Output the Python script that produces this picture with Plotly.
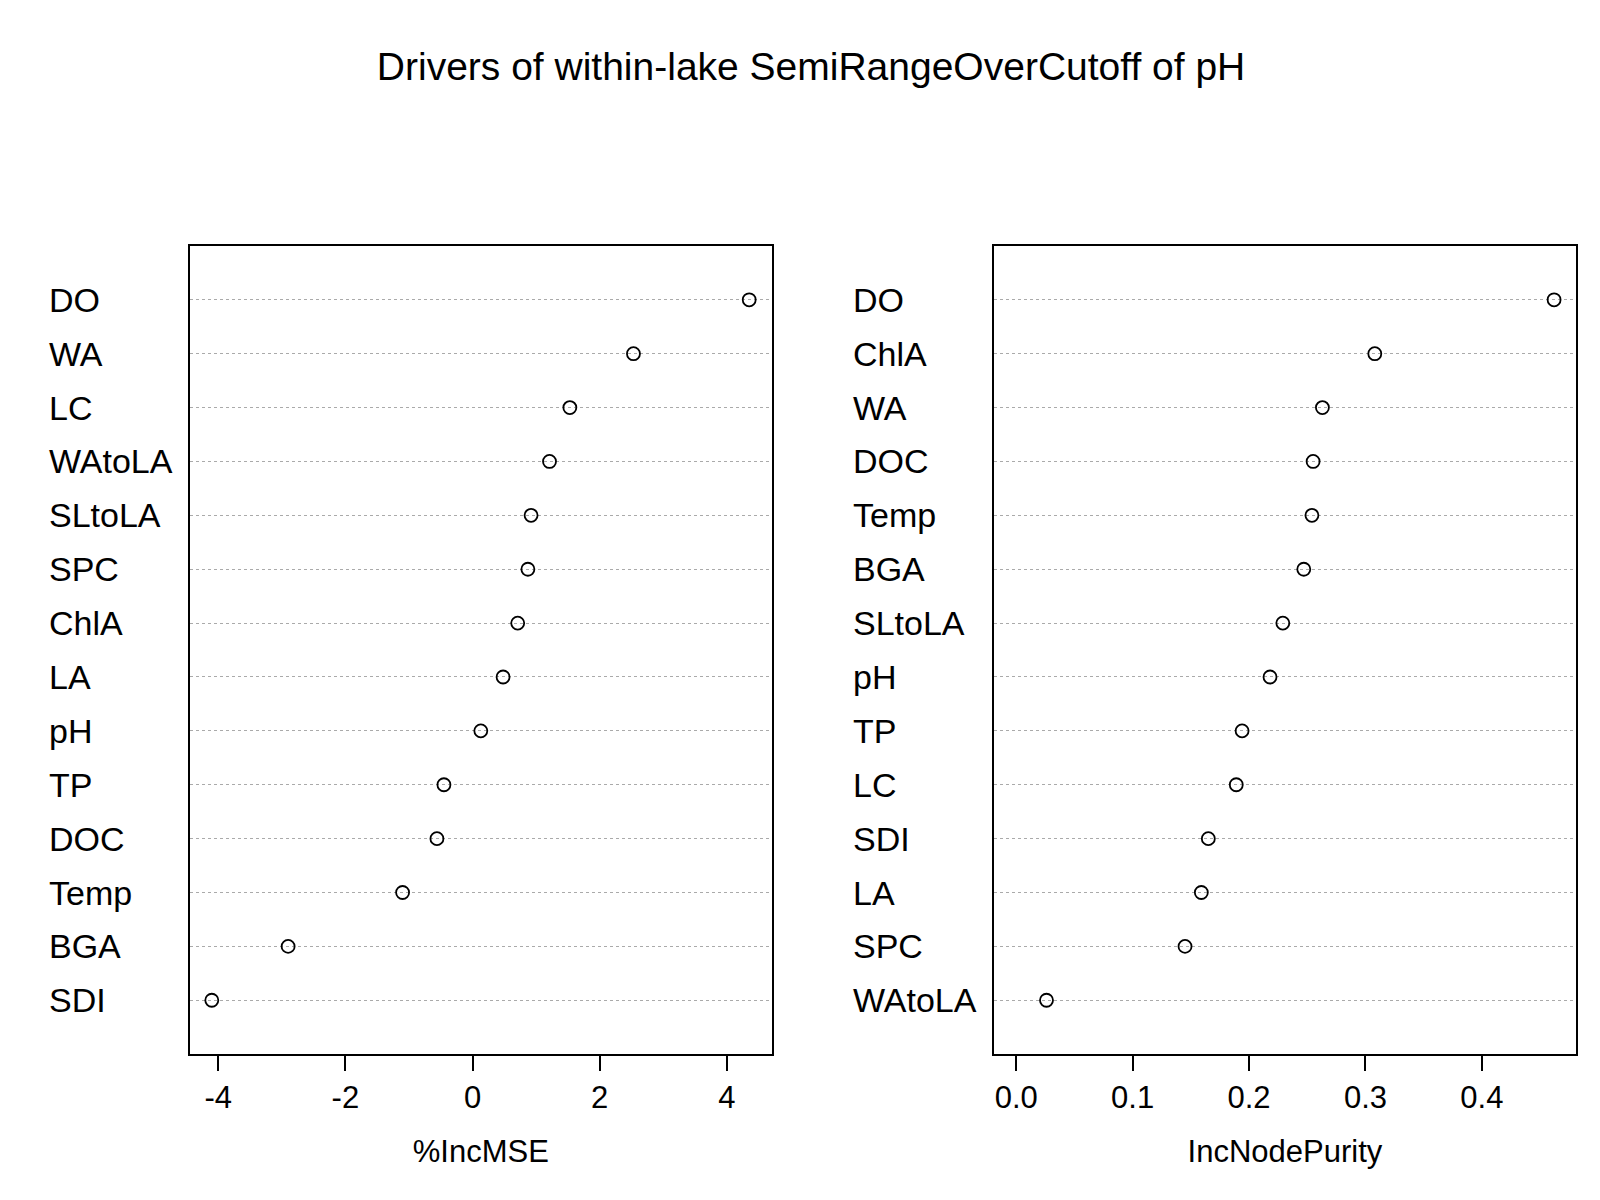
import plotly.graph_objects as go

# left panel: %IncMSE (top to bottom)
mse_vars = ["DO", "WA", "LC", "WAtoLA", "SLtoLA", "SPC", "ChlA", "LA", "pH", "TP", "DOC", "Temp", "BGA", "SDI"]
mse_vals = [4.35, 2.53, 1.53, 1.21, 0.92, 0.87, 0.71, 0.48, 0.13, -0.45, -0.56, -1.10, -2.90, -4.10]
mse_ticks = [-4, -2, 0, 2, 4]
mse_ticktext = ["-4", "-2", "0", "2", "4"]

# right panel: IncNodePurity (top to bottom)
inp_vars = ["DO", "ChlA", "WA", "DOC", "Temp", "BGA", "SLtoLA", "pH", "TP", "LC", "SDI", "LA", "SPC", "WAtoLA"]
inp_vals = [0.462, 0.308, 0.263, 0.255, 0.254, 0.247, 0.229, 0.218, 0.194, 0.189, 0.165, 0.159, 0.145, 0.026]
inp_ticks = [0.0, 0.1, 0.2, 0.3, 0.4]

FONT = "Liberation Sans, Arial"
W, H = 1600, 1200
RW, RH = 1560, 1170  # reference pixel frame

fig = go.Figure()
n = len(mse_vars)
rows = list(range(n, 0, -1))

for vals, xa, ya in [(mse_vals, "x", "y"), (inp_vals, "x2", "y2")]:
    fig.add_trace(go.Scatter(
        x=vals, y=rows, xaxis=xa, yaxis=ya, mode="markers",
        marker=dict(symbol="circle-open", size=13, color="black", line=dict(width=1.8)),
        showlegend=False,
    ))

ydom = [1 - 1020 / RH, 1 - 232 / RH]
yax = dict(domain=ydom, range=[0, n + 1], tickvals=rows, showticklabels=False, ticks="",
           showgrid=True, gridcolor="#aaaaaa", griddash="dot", gridwidth=1,
           showline=True, linecolor="black", linewidth=1.5, mirror=True, zeroline=False)
xax = dict(ticks="outside", ticklen=15, tickwidth=1.5, tickcolor="black", showgrid=False,
           zeroline=False, showline=True, linecolor="black", linewidth=1.5, mirror=True,
           tickfont=dict(size=31, family=FONT, color="black"),
           title=dict(font=dict(size=31, family=FONT, color="black"), standoff=26))

fig.update_layout(
    width=W, height=H, plot_bgcolor="white", paper_bgcolor="white",
    margin=dict(l=0, r=0, t=0, b=0),
    xaxis=dict(xax, domain=[177 / RW, 745 / RW], range=[-4.45, 4.71], tickvals=mse_ticks,
               ticktext=mse_ticktext, title_text="%IncMSE", anchor="y"),
    yaxis=dict(yax, anchor="x"),
    xaxis2=dict(xax, domain=[961 / RW, 1529 / RW], range=[-0.0194, 0.481],
                tickvals=inp_ticks, tickformat=".1f",
                title_text="IncNodePurity", anchor="y2"),
    yaxis2=dict(yax, anchor="x2"),
    title=dict(text="Drivers of within-lake SemiRangeOverCutoff of pH", x=783 / RW, xanchor="center",
               y=1 - 57 / RH, yanchor="middle", font=dict(size=39, family=FONT, color="black")),
)

for names, xpix, yref in [(mse_vars, 38, "y"), (inp_vars, 822, "y2")]:
    for name, r in zip(names, rows):
        fig.add_annotation(text=name, x=xpix / RW, xref="paper", xanchor="left",
                           y=r, yref=yref, showarrow=False,
                           font=dict(size=34, family=FONT, color="black"))

fig.write_html("out.html")
